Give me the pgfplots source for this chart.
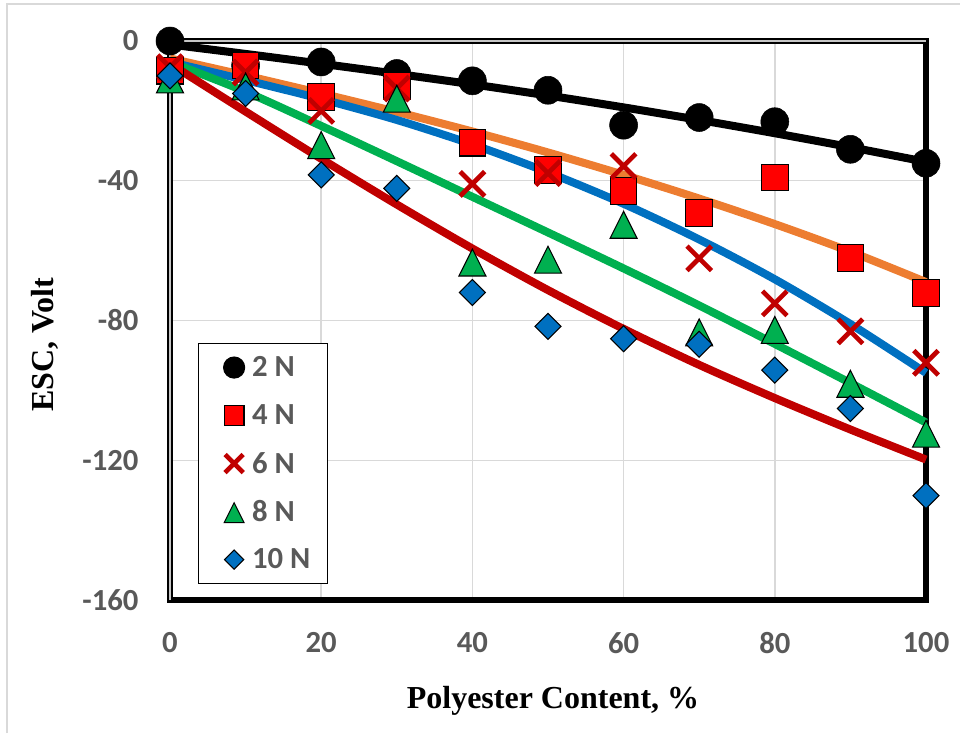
\documentclass[border=0pt]{standalone}
\usepackage{pgfplots}
\pgfplotsset{compat=1.18}
\usepackage{fontspec}
\setmainfont{Liberation Serif}
\newfontfamily\carlito{Carlito}
\definecolor{tickgray}{HTML}{595959}
\definecolor{gridgray}{HTML}{D9D9D9}
\definecolor{xorange}{HTML}{ED7D31}
\definecolor{xblue}{HTML}{0070C0}
\definecolor{xgreen}{HTML}{00B050}
\definecolor{xdarkred}{HTML}{C00000}
\definecolor{xred}{HTML}{FF0000}
\begin{document}
\begin{tikzpicture}
\begin{axis}[
  scale only axis, width=567pt, height=419.25pt,
  xmin=0, xmax=100, ymin=-160, ymax=0,
  xtick={0,20,40,60,80,100}, xticklabels={0,20,40,60,80,100},
  ytick={-160,-120,-80,-40,0}, yticklabels={-160,-120,-80,-40,0},
  major tick length=0pt,
  grid=major, grid style={line width=1.1pt, color=gridgray},
  axis line style={draw=none},
  tick label style={font=\carlito\bfseries\fontsize{23}{23}\selectfont, text=tickgray, inner sep=0pt},
  xticklabel style={anchor=north, yshift=-24pt},
  yticklabel style={anchor=east, xshift=-23.5pt},
  xlabel={Polyester Content, \%},
  ylabel={ESC, Volt},
  label style={font=\bfseries\fontsize{24}{24}\selectfont, text=black},
  x label style={at={([xshift=287.25pt,yshift=-81pt]axis description cs:0,0)}, anchor=base},
  y label style={at={([xshift=-93.75pt,yshift=191.25pt]axis description cs:0,0)}, anchor=center},
  clip=false,
  legend cell align=left,
  legend style={at={([xshift=21pt,yshift=11.8pt]axis description cs:0,0)}, anchor=south west,
    draw=black, line width=1.1pt, fill=white, inner xsep=13pt, inner ysep=0pt,
    font=\carlito\bfseries\fontsize{23}{23}\selectfont,
    nodes={inner sep=0pt, minimum height=36pt, text=tickgray},
    /tikz/every even column/.style={column sep=0pt}},
  legend image code/.code={\path (-13pt,0pt) (13pt,0pt); \draw[#1,/tikz/every mark/.append style={scale=0.74}] plot coordinates {(0pt,0pt)};},
]
% frame
\draw[line width=4pt, line cap=rect] (rel axis cs:0,0) -- (rel axis cs:1,0) -- (rel axis cs:1,1);
\draw[line width=1.1pt, double=gray!45, double distance=1.7pt] (rel axis cs:0,0) -- (rel axis cs:0,1) -- (rel axis cs:1,1);

% 2 N
\addplot[only marks, mark=*, mark size=10.5pt, mark options={fill=black, draw=black}] coordinates {
(0,0) (10,-7) (20,-6) (30,-9.3) (40,-11.4) (50,-14.1) (60,-24.1) (70,-21.9) (80,-23.1) (90,-31) (100,-35)};
\addlegendentry{2 N}
\addplot[forget plot, smooth, line width=6pt, black] coordinates {
(0,-1) (10,-3.7) (20,-6.5) (30,-9.4) (40,-12.4) (50,-15.6) (60,-19) (70,-22.6) (80,-26.4) (90,-30.4) (100,-34.6)};

% 4 N
\addplot[only marks, mark=square*, mark size=10pt, mark options={fill=xred, draw=black, line width=0.8pt}] coordinates {
(0,-8.5) (10,-7) (20,-16) (30,-12.8) (40,-29.1) (50,-37) (60,-43) (70,-49.2) (80,-39.1) (90,-62.1) (100,-72.1)};
\addlegendentry{4 N}
\addplot[forget plot, smooth, line width=6pt, xorange] coordinates {
(0,-5) (10,-9.9) (20,-15) (30,-20.3) (40,-25.9) (50,-31.9) (60,-38.3) (70,-45.1) (80,-52.4) (90,-60.3) (100,-69)};

% 6 N
\addplot[only marks, mark=x, mark size=13pt, mark options={draw=xdarkred, line width=3.5pt}] coordinates {
(0,-7.5) (10,-9) (20,-20) (30,-13.6) (40,-40.9) (50,-37.8) (60,-35.8) (70,-62.2) (80,-75.1) (90,-83.1) (100,-92.1)};
\addlegendentry{6 N}
\addplot[forget plot, smooth, line width=6pt, xblue] coordinates {
(0,-6) (10,-11.2) (20,-16.6) (30,-22.6) (40,-29.6) (50,-37.6) (60,-46.6) (70,-56.8) (80,-68.2) (90,-81) (100,-95)};

% 8 N
\addplot[only marks, mark=triangle*, mark size=11.7pt, mark options={fill=xgreen, draw=black, line width=0.8pt, yshift=-3.4pt, yscale=1.15}] coordinates {
(0,-11) (10,-13) (20,-29.8) (30,-16.5) (40,-63.4) (50,-62.6) (60,-52.6) (70,-83.4) (80,-82.7) (90,-98.1) (100,-112.4)};
\addlegendentry{8 N}
\addplot[forget plot, smooth, line width=6pt, xgreen] coordinates {
(0,-6) (10,-14.5) (20,-24.3) (30,-34.4) (40,-44.6) (50,-54.8) (60,-65.1) (70,-75.7) (80,-86.7) (90,-97.9) (100,-109.2)};

% 10 N
\addplot[only marks, mark=diamond*, mark size=9.75pt, mark options={fill=xblue, draw=black, line width=0.8pt, xscale=1.3333}] coordinates {
(0,-10) (10,-15) (20,-38.3) (30,-42.2) (40,-72) (50,-81.7) (60,-85.2) (70,-86.8) (80,-94.2) (90,-105.2) (100,-130.1)};
\addlegendentry{10 N}
\addplot[forget plot, smooth, line width=6pt, xdarkred] coordinates {
(0,-6.5) (10,-20.2) (20,-33.7) (30,-46.8) (40,-59.4) (50,-71.3) (60,-82.4) (70,-92.7) (80,-102.2) (90,-111.2) (100,-119.8)};
\end{axis}
\pgfresetboundingbox
\useasboundingbox (-127.5pt,-99.75pt) rectangle (592.5pt,450pt);
\draw[gridgray, line width=1.1pt] (-122.25pt,-99.75pt) -- (-122.25pt,447pt) -- (592.5pt,447pt);
\end{tikzpicture}
\end{document}
